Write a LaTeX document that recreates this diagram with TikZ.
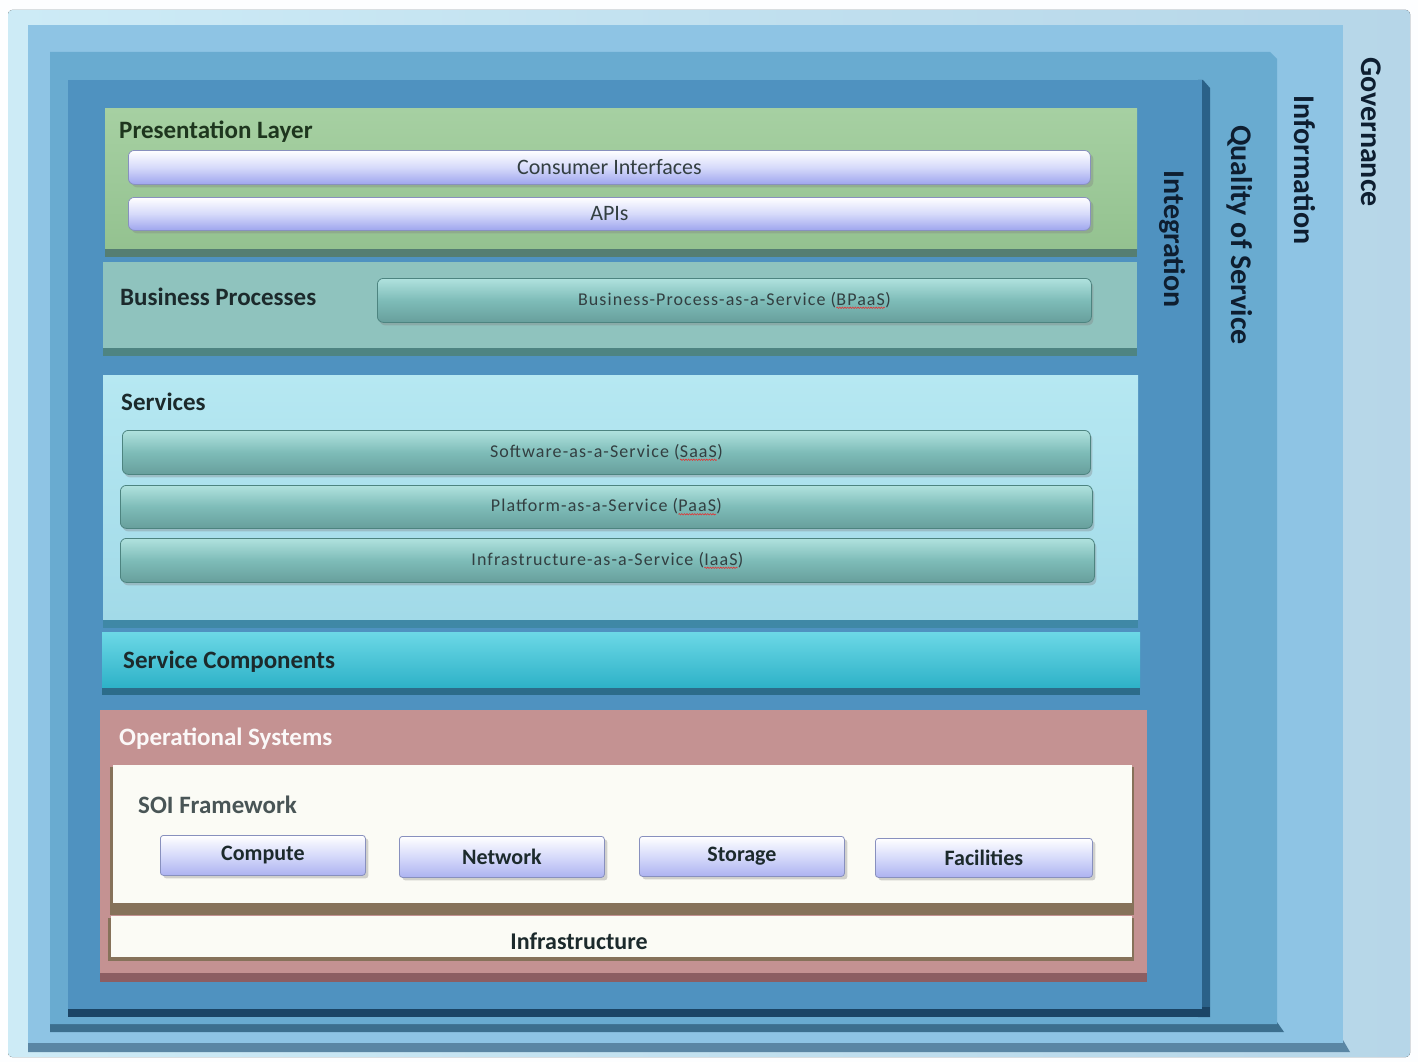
\documentclass[tikz,border=0pt]{standalone}
\usepackage{fontspec}
\setmainfont{Carlito}
\usetikzlibrary{shadows,decorations.pathmorphing}

% frame colours
\definecolor{govL}{HTML}{CDEBF6}
\definecolor{govR}{HTML}{B6D6E8}
\definecolor{info}{HTML}{8EC4E4}
\definecolor{infoEdge}{HTML}{5A86A4}
\definecolor{qos}{HTML}{69ABD0}
\definecolor{qosEdge}{HTML}{3C6F8E}
\definecolor{integ}{HTML}{4F92C0}
\definecolor{integSide}{HTML}{2A6188}
\definecolor{integEdge}{HTML}{1B4566}
% layer colours
\definecolor{presTop}{HTML}{A6D0A2}
\definecolor{presBot}{HTML}{94C290}
\definecolor{presEdge}{HTML}{557E72}
\definecolor{bizFill}{HTML}{8FC3BE}
\definecolor{bizEdge}{HTML}{4E8482}
\definecolor{svcTop}{HTML}{B6E8F2}
\definecolor{svcBot}{HTML}{A2DAE8}
\definecolor{svcEdge}{HTML}{3F88A6}
\definecolor{scTop}{HTML}{6CD8E6}
\definecolor{scBot}{HTML}{2EB2C8}
\definecolor{scEdge}{HTML}{2C6C8A}
\definecolor{osFill}{HTML}{C49292}
\definecolor{osEdge}{HTML}{8C5E62}
\definecolor{paper}{HTML}{FBFBF5}
\definecolor{brownEdge}{HTML}{86725A}
% bar colours
\definecolor{lavBot}{HTML}{9EA5EE}
\definecolor{lavMid}{HTML}{D6DAFA}
\definecolor{lavLine}{HTML}{8890BE}
\definecolor{tealTop}{HTML}{B0E2DE}
\definecolor{tealMid}{HTML}{7EBCB8}
\definecolor{tealBot}{HTML}{679F9C}
\definecolor{tealLine}{HTML}{4D8480}
\definecolor{ink}{HTML}{1C2A2C}
\definecolor{darkgreen}{HTML}{1E361E}
\definecolor{navy}{HTML}{0E1E30}
\definecolor{squigred}{HTML}{E03636}

\tikzset{
  vlabel/.style={font=\bfseries\fontsize{30}{32}\selectfont, text=navy, rotate=-90, inner sep=0pt},
  heading/.style={font=\bfseries\fontsize{25}{27}\selectfont, text=ink, anchor=base west, inner sep=0pt},
  lavbar/.style={rounded corners=6pt, draw=lavLine, line width=0.8pt,
    top color=white, bottom color=lavBot, middle color=lavMid,
    drop shadow={shadow xshift=3pt, shadow yshift=-3pt, opacity=0.35}},
  tealbar/.style={rounded corners=6pt, draw=tealLine, line width=0.8pt,
    top color=tealTop, bottom color=tealBot, middle color=tealMid,
    drop shadow={shadow xshift=2pt, shadow yshift=-3pt, opacity=0.35}},
  resbox/.style={rounded corners=3pt, draw=lavLine, line width=0.8pt,
    top color=white, bottom color=lavBot!85, middle color=lavMid,
    drop shadow={shadow xshift=3pt, shadow yshift=-3pt, opacity=0.35}},
  barlabel/.style={font=\fontsize{22}{24}\selectfont, text=ink!90, inner sep=0pt},
  smalllabel/.style={font=\fontsize{18}{20}\selectfont\addfontfeature{LetterSpace=6}, text=ink!90, inner sep=0pt},
  boxlabel/.style={font=\bfseries\fontsize{22}{24}\selectfont, text=ink, inner sep=0pt},
  squig/.style={draw=squigred, line width=0.6pt, decorate,
    decoration={snake, amplitude=0.7pt, segment length=2.6pt}}
}

% word with a wavy red underline
\newcommand\spellmark[1]{\tikz[baseline=(sw.base)]{\node[inner sep=0pt,outer sep=0pt] (sw) {#1};
  \draw[squig] ([yshift=-2.6pt]sw.base west) -- ([yshift=-2.6pt]sw.base east);}}

\begin{document}
\begin{tikzpicture}[x=1pt,y=-1pt]
\useasboundingbox (0,0) rectangle (1418,1062);
\fill[white!96!govL] (0,0) rectangle (1418,1062);

% ---- nested frames ----
\fill[left color=govL, right color=govR, rounded corners=4pt] (8,10) rectangle (1410,1057);
\fill[infoEdge] (28,1040) -- (1343,1040) -- (1350,1052) -- (28,1052) -- cycle;
\fill[info] (28,25) rectangle (1343,1043);
\fill[qosEdge] (50,1022) -- (1277,1022) -- (1284,1032) -- (50,1032) -- cycle;
\fill[qos] (50,52) -- (1270,52) -- (1277,59) -- (1277,1024) -- (50,1024) -- cycle;
\fill[integSide] (1198,80) -- (1203,80) -- (1210,88) -- (1210,1017) -- (1198,1017) -- cycle;
\fill[integEdge] (68,1007) rectangle (1210,1017);
\fill[integ] (68,80) rectangle (1202,1009);

% ---- frame titles ----
\node[vlabel] (gov) at (1371,132) {Governance};
\node[vlabel] (info) at (1305,170) {Information};
\node[vlabel] (qos) at (1240,235) {Quality of Service};
\node[vlabel] (integ) at (1172,239) {Integration};

% ---- presentation layer ----
\fill[presEdge] (105,246) rectangle (1137,257);
\fill[top color=presTop, bottom color=presBot] (105,109) rectangle (1137,248);
\node[heading, text=darkgreen] (pres) at (119,139) {Presentation Layer};
\node[lavbar, minimum width=962pt, minimum height=34pt, anchor=north west] (ci) at (128,150) {};
\node[lavbar, minimum width=962pt, minimum height=33pt, anchor=north west] (api) at (128,197) {};
\node[barlabel] (ciT) at (ci.center) {Consumer Interfaces};
\node[barlabel] (apiT) at (api.center) {APIs};

% ---- business processes ----
\fill[bizEdge] (103,346) rectangle (1137,356);
\fill[bizFill] (103,262) rectangle (1137,348);
\node[heading] (biz) at (120,305) {Business Processes};
\node[tealbar, minimum width=714pt, minimum height=44pt, anchor=north west] (bpaas) at (377,278) {};
\node[smalllabel] (bpaasT) at (bpaas.center) {Business-Process-as-a-Service (\spellmark{BPaaS})};

% ---- services ----
\fill[svcEdge] (103,616) rectangle (1138,628);
\fill[top color=svcTop, bottom color=svcBot] (103,375) rectangle (1138,619);
\node[heading] (svc) at (121,410) {Services};
\node[tealbar, minimum width=968pt, minimum height=44pt, anchor=north west] (saas) at (122,430) {};
\node[tealbar, minimum width=972pt, minimum height=43pt, anchor=north west] (paas) at (120,485) {};
\node[tealbar, minimum width=974pt, minimum height=44pt, anchor=north west] (iaas) at (120,538) {};
\node[smalllabel] (saasT) at (saas.center) {Software-as-a-Service (\spellmark{SaaS})};
\node[smalllabel] (paasT) at (paas.center) {Platform-as-a-Service (\spellmark{PaaS})};
\node[smalllabel] (iaasT) at (iaas.center) {Infrastructure-as-a-Service (\spellmark{IaaS})};

% ---- service components ----
\fill[scEdge] (102,684) rectangle (1140,695);
\fill[top color=scTop, bottom color=scBot] (102,632) rectangle (1140,687);
\node[heading] (sc) at (123,668) {Service Components};

% ---- operational systems ----
\fill[osEdge] (100,970) rectangle (1147,982);
\fill[osFill] (100,710) rectangle (1147,973);
\node[heading, text=white!94!osFill] (os) at (119,745) {Operational Systems};

% SOI framework panel
\fill[brownEdge] (110,767) rectangle (1134,915);
\fill[paper] (113,765) rectangle (1132,903);
\node[heading, font=\bfseries\fontsize{25}{27}\selectfont, text=ink!80] (soi) at (138,813) {SOI Framework};
\node[resbox, minimum width=205pt, minimum height=40pt, anchor=north west] (comp) at (160,835) {};
\node[resbox, minimum width=205pt, minimum height=41pt, anchor=north west] (net) at (399,836) {};
\node[resbox, minimum width=205pt, minimum height=40pt, anchor=north west] (stor) at (639,836) {};
\node[resbox, minimum width=217pt, minimum height=39pt, anchor=north west] (fac) at (875,838) {};
\node[boxlabel] (compT) at (comp.center) {Compute};
\node[boxlabel] (netT) at (net.center) {Network};
\node[boxlabel] (storT) at (stor.center) {Storage};
\node[boxlabel] (facT) at (fac.center) {Facilities};

% infrastructure strip
\fill[brownEdge] (108,918) rectangle (1134,961);
\fill[paper] (111,916) rectangle (1132,957);
\node[boxlabel, font=\bfseries\fontsize{24}{26}\selectfont] (infra) at (579,941) {Infrastructure};
\end{tikzpicture}
\end{document}
